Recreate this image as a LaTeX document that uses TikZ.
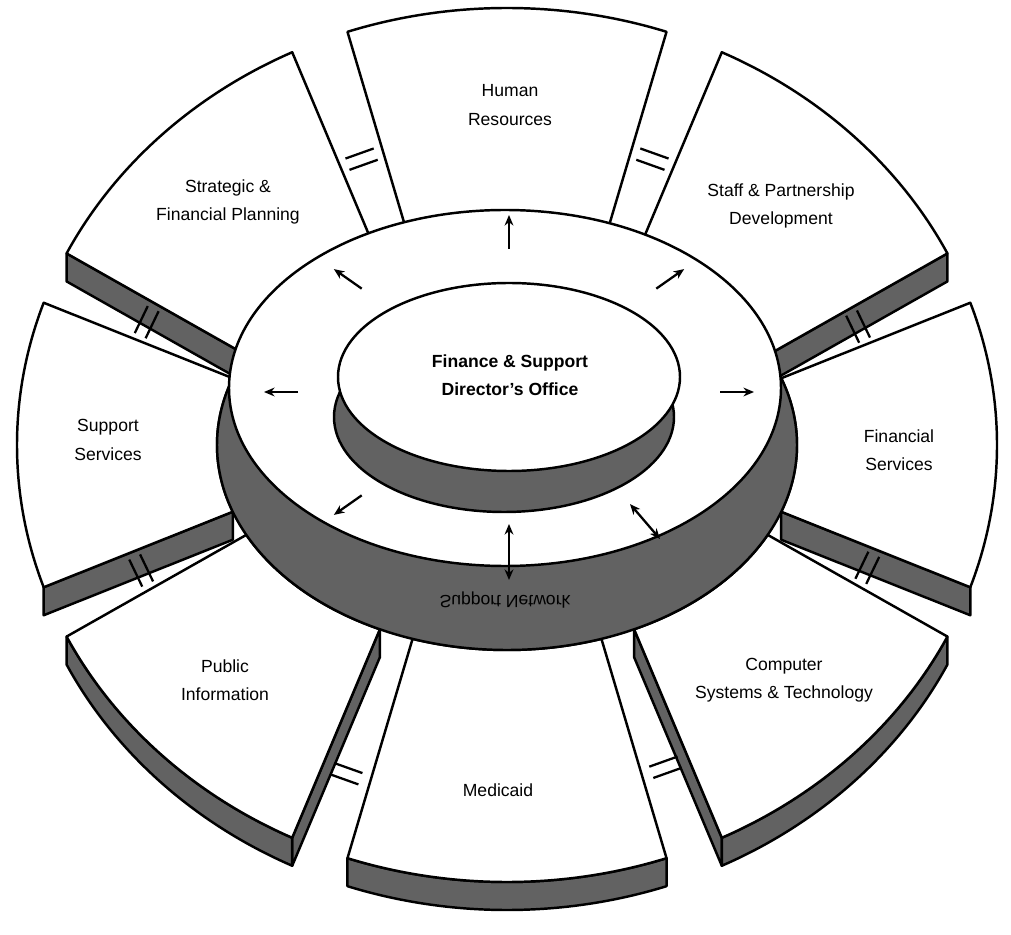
\documentclass[tikz,border=0pt]{standalone}
\usepackage{fontspec}
\setmainfont{Liberation Sans}
\usetikzlibrary{arrows.meta}

\definecolor{sidegray}{RGB}{98,98,98}

% top face of a wheel sector between two angles
\newcommand{\sectortop}[2]{%
  \filldraw[fill=white] ({507+290*cos(#1)},{489+205*sin(#1)}) -- ({507+490*cos(#1)},{489+437*sin(#1)})
    arc[start angle=#1, end angle=#2, x radius=490, y radius=437]
    -- ({507+290*cos(#2)},{489+205*sin(#2)})
    arc[start angle=#2, end angle=#1, x radius=290, y radius=205] -- cycle;}
% side face under a straight edge
\newcommand{\sectoredge}[1]{%
  \filldraw[fill=sidegray] ({507+290*cos(#1)},{489+205*sin(#1)}) -- ({507+490*cos(#1)},{489+437*sin(#1)})
    -- ++(0,-28) -- ({507+290*cos(#1)},{461+205*sin(#1)}) -- cycle;}
% side face under the outer rim
\newcommand{\sectorrim}[2]{%
  \filldraw[fill=sidegray] ({507+490*cos(#1)},{489+437*sin(#1)})
    arc[start angle=#1, end angle=#2, x radius=490, y radius=437] -- ++(0,-28)
    arc[start angle=#2, end angle=#1, x radius=490, y radius=437] -- cycle;}

\begin{document}
\begin{tikzpicture}[x=0.02cm, y=0.02cm, line width=1.4pt, line join=round,
  lbl/.style={font=\fontsize{10}{16}\selectfont, align=center},
  chanmark/.style={line width=1.3pt},
  flow/.style={line width=1.3pt, -{Stealth[length=6pt,width=5pt]}},
  twoway/.style={line width=1.3pt, {Stealth[length=6pt,width=5pt]}-{Stealth[length=6pt,width=5pt]}}]
  \useasboundingbox (0,0) rectangle (1011,934);

  \sectoredge{26}   \sectoredge{-19}  \sectoredge{-64}  \sectoredge{-116}
  \sectoredge{199}  \sectoredge{154}
  \sectorrim{-64}{-26} \sectorrim{-109}{-71} \sectorrim{-154}{-116}

  \sectortop{71}{109}   \sectortop{26}{64}    \sectortop{-19}{19}
  \sectortop{-64}{-26}  \sectortop{-109}{-71} \sectortop{-154}{-116}
  \sectortop{161}{199}  \sectortop{116}{154}

  \foreach \ga/\fr in {67.5/.45, 112.5/.45, 22.5/.45, 157.5/.5, -22.5/.5, 202.5/.53, -67.5/.62, -112.5/.65}{
    \pgfmathsetmacro\rx{290+200*\fr}
    \pgfmathsetmacro\ry{205+232*\fr}
    \pgfmathsetmacro\dir{atan2(232*sin(\ga),200*cos(\ga))}
    \begin{scope}[shift={({507+\rx*cos(\ga)},{489+\ry*sin(\ga)})}, rotate=\dir]
      \draw[chanmark] (-6,-15) -- (-6,15) (6,-15) -- (6,15);
    \end{scope}
  }

  \filldraw[fill=sidegray] (507,489) ellipse[x radius=290, y radius=205];
  \filldraw[fill=white] (505,546) ellipse[x radius=276, y radius=178];

  \foreach \ga in {0,45,90,135,180,225}{
    \pgfmathsetmacro\dir{atan2(160*sin(\ga),228*cos(\ga))}
    \draw[flow, shift={({509+228*cos(\ga)},{542+160*sin(\ga)})}, rotate=\dir] (-17,0) -- (17,0);
  }
  \draw[twoway] (509,354) -- (509,410);
  \draw[twoway] (630,430) -- (660,395);

  \filldraw[fill=sidegray] (504,517) ellipse[x radius=170, y radius=95];
  \filldraw[fill=white] (509,557) ellipse[x radius=171, y radius=94];

  \node[lbl, font=\fontsize{10}{16}\selectfont\bfseries] (office) at (510,559) {Finance \& Support\\Director's Office};
  \node[lbl, yscale=-1, transform shape] (network) at (505,334) {Support Network};
  \node[lbl] (hr) at (510,829) {Human\\Resources};
  \node[lbl] (staff) at (781,728) {Staff \& Partnership\\Development};
  \node[lbl] (fin) at (899,484) {Financial\\Services};
  \node[lbl] (comp) at (784,254) {Computer\\Systems \& Technology};
  \node[lbl] (medicaid) at (498,144) {Medicaid};
  \node[lbl] (public) at (225,254) {Public\\Information};
  \node[lbl] (support) at (108,494) {Support\\Services};
  \node[lbl] (plan) at (228,732) {Strategic \&\\Financial Planning};
\end{tikzpicture}
\end{document}
